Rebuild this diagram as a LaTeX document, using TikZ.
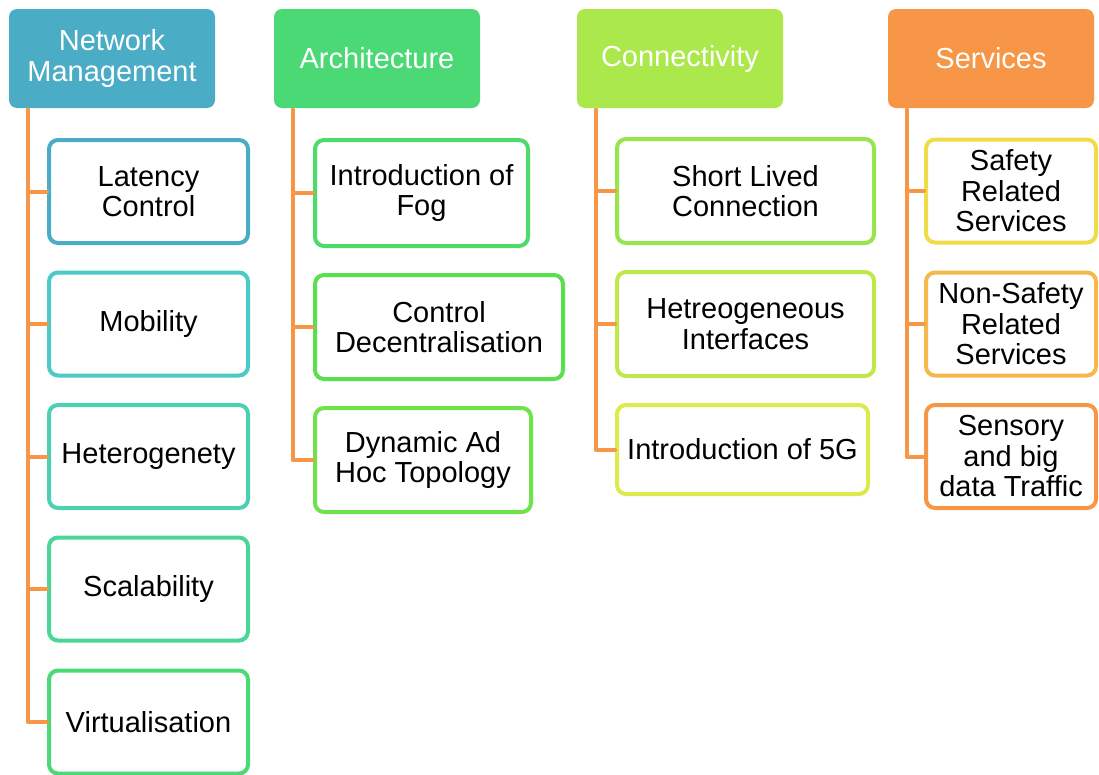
\documentclass[tikz,border=0pt]{standalone}
\usepackage{fontspec}
\setmainfont{Liberation Sans}
\definecolor{cnm}{RGB}{75,172,198}
\definecolor{cmob}{RGB}{75,202,200}
\definecolor{chet}{RGB}{75,208,180}
\definecolor{cscal}{RGB}{75,213,150}
\definecolor{carch}{RGB}{75,217,117}
\definecolor{cfog}{RGB}{78,219,108}
\definecolor{cctrl}{RGB}{90,223,80}
\definecolor{cdyn}{RGB}{112,226,75}
\definecolor{cconn}{RGB}{171,232,75}
\definecolor{cshort}{RGB}{150,230,75}
\definecolor{chetr}{RGB}{192,232,75}
\definecolor{cfive}{RGB}{220,234,75}
\definecolor{csvc}{RGB}{247,150,70}
\definecolor{csafe}{RGB}{240,220,75}
\definecolor{cnons}{RGB}{245,185,75}
\definecolor{linkor}{RGB}{247,150,70}
\begin{document}
\begin{tikzpicture}[x=1pt,y=-1pt,
  head/.style={fill=#1, draw=none, rounded corners=8pt, text=white, align=center,
    inner sep=0pt, minimum width=206pt, minimum height=99pt,
    font=\fontsize{29}{31}\selectfont},
  item/.style={draw=#1, fill=white, line width=4pt, rounded corners=9pt, align=center,
    inner sep=0pt, text=black, font=\fontsize{29}{30.5}\selectfont},
  link/.style={draw=linkor, line width=4pt, line join=round, line cap=round}]
\useasboundingbox (0,0) rectangle (1099,774);

% headers
\node[head=cnm] (nm) at (112,58.5) {Network\\Management};
\node[head=carch] (arch) at (377,58.5) {Architecture};
\node[head=cconn] (conn) at (680,58.5) {Connectivity};
\node[head=csvc] (svc) at (991,58.5) {Services};

% network management items
\tikzset{nmbox/.style={item=#1, minimum width=199pt, minimum height=103pt}}
\node[nmbox=cnm] (lat) at (148.5,191.5) {Latency\\Control};
\node[nmbox=cmob] (mob) at (148.5,324) {Mobility};
\node[nmbox=chet] (het) at (148.5,456.5) {Heterogenety};
\node[nmbox=cscal] (scal) at (148.5,589) {Scalability};
\node[nmbox=carch] (virt) at (148.5,722) {Virtualisation};

% architecture items
\node[item=cfog, minimum width=213pt, minimum height=106pt] (fog) at (421.5,193) {Introduction of\\Fog};
\node[item=cctrl, minimum width=248pt, minimum height=104pt] (ctrl) at (439,327) {Control\\Decentralisation};
\node[item=cdyn, minimum width=216pt, minimum height=104pt] (dyn) at (423,460) {Dynamic Ad\\Hoc Topology};

% connectivity items
\node[item=cshort, minimum width=257pt, minimum height=104pt] (short) at (745.5,191) {Short Lived\\Connection};
\node[item=chetr, minimum width=257pt, minimum height=104pt] (hetr) at (745.5,324) {Hetreogeneous\\Interfaces};
\node[item=cfive, minimum width=251pt, minimum height=89pt] (five) at (742.5,449.5) {Introduction of 5G};

% services items
\tikzset{svbox/.style={item=#1, minimum width=170pt, minimum height=103pt}}
\node[svbox=csafe] (safe) at (1011,191) {Safety\\Related\\Services};
\node[svbox=cnons] (nons) at (1011,324) {Non-Safety\\Related\\Services};
\node[svbox=csvc] (sens) at (1011,456.5) {Sensory\\and big\\data Traffic};

% connectors
\coordinate (tnm) at (27.5,110);
\coordinate (tarch) at (292.5,110);
\coordinate (tconn) at (595.5,110);
\coordinate (tsvc) at (906.5,110);
\foreach \c in {lat,mob,het,scal,virt} \draw[link] (tnm) |- (\c.west);
\foreach \c in {fog,ctrl,dyn} \draw[link] (tarch) |- (\c.west);
\foreach \c in {short,hetr,five} \draw[link] (tconn) |- (\c.west);
\foreach \c in {safe,nons,sens} \draw[link] (tsvc) |- (\c.west);
% redraw boxes edges on top of stubs not needed
\end{tikzpicture}
\end{document}
